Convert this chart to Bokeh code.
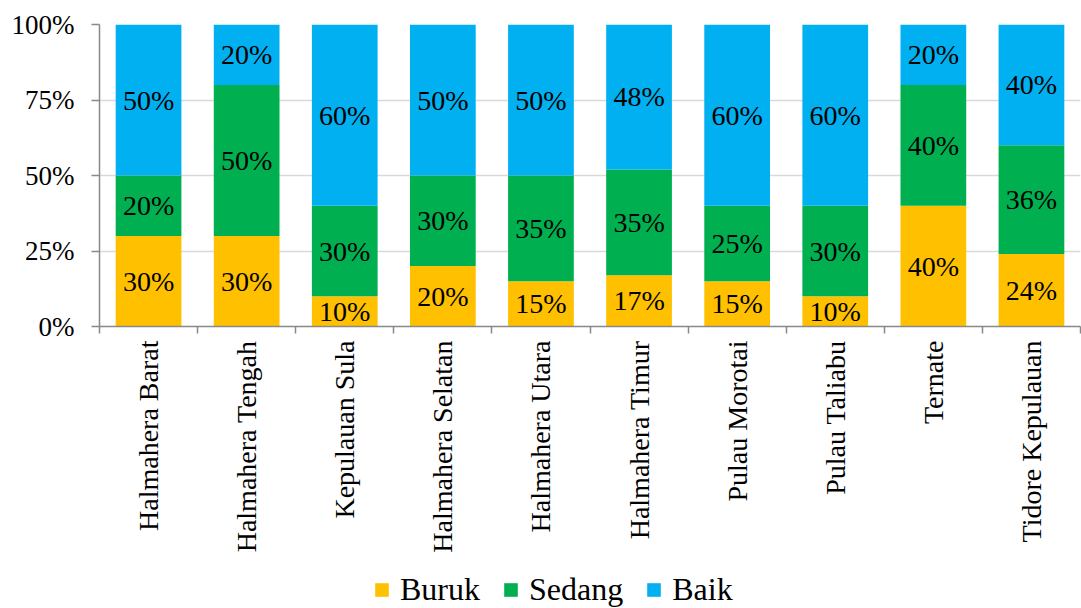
import math
from bokeh.plotting import figure
from bokeh.layouts import column
from bokeh.models import (ColumnDataSource, FixedTicker, PrintfTickFormatter, Range1d,
                          Legend, LegendItem)
from bokeh.core.properties import value
from bokeh.embed import file_html
from bokeh.resources import INLINE

categories = ["Halmahera Barat", "Halmahera Tengah", "Kepulauan Sula", "Halmahera Selatan",
              "Halmahera Utara", "Halmahera Timur", "Pulau Morotai", "Pulau Taliabu",
              "Ternate", "Tidore Kepulauan"]
buruk = [30, 30, 10, 20, 15, 17, 15, 10, 40, 24]
sedang = [20, 50, 30, 30, 35, 35, 25, 30, 40, 36]
baik = [50, 20, 60, 50, 50, 48, 60, 60, 20, 40]
series_names = ["Buruk", "Sedang", "Baik"]
colors = ["#FFC000", "#00B050", "#00B0F0"]
y_ticks = [0, 25, 50, 75, 100]

FONT = "Liberation Serif"
AXIS_COLOR = "#898989"

n = len(categories)
xs = [i + 0.5 for i in range(n)]
src = ColumnDataSource(dict(x=xs, Buruk=buruk, Sedang=sedang, Baik=baik))

p = figure(width=1081, height=556, x_range=Range1d(0, n), y_range=Range1d(0, 100),
           output_backend="svg", toolbar_location=None,
           min_border_left=99, min_border_right=1, min_border_top=24, min_border_bottom=230)
p.outline_line_color = None
p.background_fill_color = "white"

rs = p.vbar_stack(series_names, x="x", width=0.67, source=src,
                  fill_color=colors, line_color=None)

# data labels
lx, ly, lt = [], [], []
for i in range(n):
    vals = [buruk[i], sedang[i], baik[i]]
    base = 0
    for v in vals:
        lx.append(xs[i])
        ly.append(base + v / 2)
        lt.append(f"{v}%")
        base += v
lsrc = ColumnDataSource(dict(x=lx, y=ly, t=lt))
p.text(x="x", y="y", text="t", source=lsrc, text_align="center", text_baseline="middle",
       text_font=value(FONT), text_font_size="28px", text_color="black")

# x axis
xa = p.xaxis[0]
xa.ticker = FixedTicker(ticks=xs, minor_ticks=list(range(0, n + 1)))
xa.major_label_overrides = {x: c for x, c in zip(xs, categories)}
xa.major_tick_line_color = None
xa.major_tick_out = 7
xa.major_tick_in = 0
xa.minor_tick_out = 7
xa.minor_tick_in = 0
xa.minor_tick_line_color = AXIS_COLOR
xa.minor_tick_line_width = 1.5
xa.axis_line_color = AXIS_COLOR
xa.axis_line_width = 1.5
xa.major_label_orientation = math.pi / 2
xa.major_label_standoff = 7
xa.major_label_text_font = FONT
xa.major_label_text_font_size = "28px"
xa.major_label_text_color = "black"

# y axis
ya = p.yaxis[0]
ya.ticker = FixedTicker(ticks=y_ticks)
ya.formatter = PrintfTickFormatter(format="%d%%")
ya.major_tick_out = 8
ya.major_tick_in = 0
ya.minor_tick_line_color = None
ya.major_tick_line_color = AXIS_COLOR
ya.major_tick_line_width = 1.5
ya.axis_line_color = AXIS_COLOR
ya.axis_line_width = 1.5
ya.major_label_standoff = 17
ya.major_label_text_font = FONT
ya.major_label_text_font_size = "27px"
ya.major_label_text_color = "black"

p.xgrid.visible = False
p.ygrid.ticker = FixedTicker(ticks=y_ticks)
p.ygrid.grid_line_color = "#D9D9D9"
p.ygrid.grid_line_width = 1.5

# legend strip below the chart (same series, drawn outside its view; only the legend shows)
lg = figure(width=1081, height=52, x_range=Range1d(0, n), y_range=Range1d(1000, 1100),
            output_backend="svg", toolbar_location=None,
            x_axis_location=None, y_axis_location=None, min_border=0)
lg.outline_line_color = None
lg.grid.visible = False
lg.background_fill_color = "white"
swatches = lg.vbar_stack(series_names, x="x", width=0.67, source=src,
                         fill_color=colors, line_color=None)
legend = Legend(items=[LegendItem(label=nm, renderers=[r]) for nm, r in zip(series_names, swatches)],
                orientation="horizontal", location=(274, 0),
                label_text_font=FONT, label_text_font_size="32px", label_text_color="black",
                glyph_width=17, glyph_height=17, label_standoff=10, spacing=22,
                border_line_color=None, background_fill_alpha=0, padding=0, margin=0)
lg.add_layout(legend, "center")

layout = column(p, lg, spacing=0)
open("out.html", "w").write(file_html(layout, INLINE))
